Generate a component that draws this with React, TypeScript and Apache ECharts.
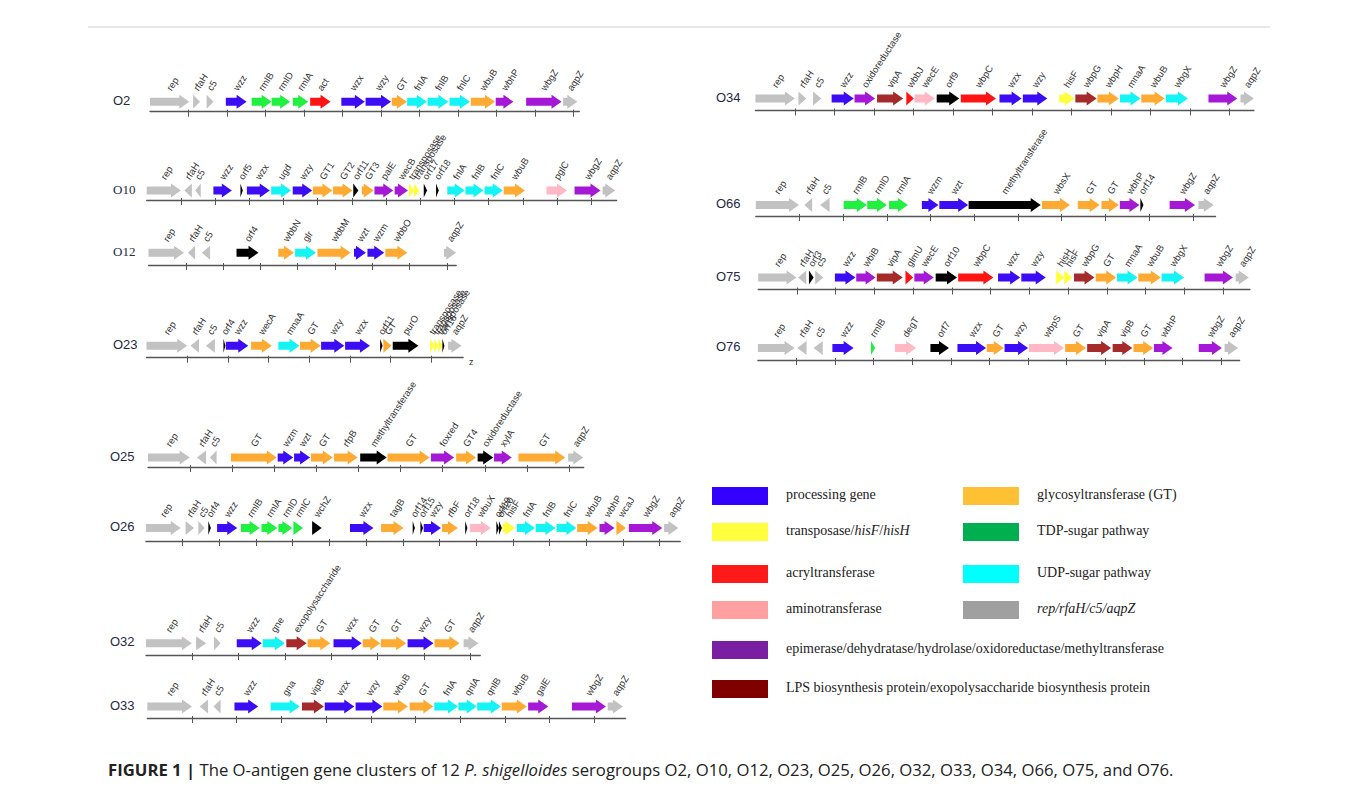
import React, { useEffect, useRef } from "react";
import * as echarts from "echarts";

// [name, start (tick units), end (tick units), strand, category]
type Gene = [string, number, number, number, string];

const O2_GENES: Gene[] = [
  ["rep", 0, 1.02, 1, "rep"], ["rfaH", 1.12, 1.3, 1, "rep"], ["c5", 1.47, 1.65, 1, "rep"],
  ["wzz", 1.97, 2.51, 1, "proc"], ["rmlB", 2.64, 3.16, 1, "tdp"], ["rmlD", 3.16, 3.64, 1, "tdp"],
  ["rmlA", 3.71, 4.11, 1, "tdp"], ["act", 4.16, 4.69, 1, "acyl"], ["wzx", 4.97, 5.58, 1, "proc"],
  ["wzy", 5.6, 6.26, 1, "proc"], ["GT", 6.28, 6.67, 1, "gt"], ["fnlA", 6.68, 7.19, 1, "udp"],
  ["fnlB", 7.21, 7.75, 1, "udp"], ["fnlC", 7.78, 8.31, 1, "udp"], ["wbuB", 8.33, 8.96, 1, "gt"],
  ["wbhP", 8.98, 9.44, 1, "epi"], ["wbgZ", 9.77, 10.69, 1, "epi"], ["aqpZ", 10.73, 11.1, 1, "rep"],
];
const O10_GENES: Gene[] = [
  ["rep", 0, 1.0, 1, "rep"], ["rfaH", 1.1, 1.32, -1, "rep"], ["c5", 1.42, 1.58, -1, "rep"],
  ["wzz", 1.95, 2.49, 1, "proc"], ["orf5", 2.74, 2.81, 1, "orf"], ["wzx", 2.93, 3.6, 1, "proc"],
  ["ugd", 3.64, 4.22, 1, "udp"], ["wzy", 4.27, 4.84, 1, "proc"], ["GT1", 4.86, 5.43, 1, "gt"],
  ["GT2", 5.45, 6.02, 1, "gt"], ["orf11", 6.04, 6.19, 1, "orf"], ["GT3", 6.29, 6.64, 1, "gt"],
  ["palE", 6.66, 7.21, 1, "epi"], ["wecB", 7.25, 7.64, 1, "epi"], ["transposase", 7.67, 7.82, 1, "transp"],
  ["transposase", 7.82, 7.97, 1, "transp"], ["orf17", 8.1, 8.2, 1, "orf"], ["orf18", 8.46, 8.54, 1, "orf"],
  ["fnlA", 8.79, 9.3, 1, "udp"], ["fnlB", 9.32, 9.85, 1, "udp"], ["fnlC", 9.88, 10.41, 1, "udp"],
  ["wbuB", 10.44, 11.06, 1, "gt"], ["pglC", 11.69, 12.29, 1, "amino"], ["wbgZ", 12.51, 13.27, 1, "epi"],
  ["aqpZ", 13.33, 13.7, 1, "rep"],
];
const O12_GENES: Gene[] = [
  ["rep", 0, 0.95, 1, "rep"], ["rfaH", 1.06, 1.25, -1, "rep"], ["c5", 1.43, 1.65, -1, "rep"],
  ["orf4", 2.36, 2.95, 1, "orf"], ["wbbN", 3.48, 3.9, 1, "gt"], ["glr", 3.93, 4.49, 1, "udp"],
  ["wbbM", 4.53, 5.42, 1, "gt"], ["wzt", 5.51, 5.83, 1, "proc"], ["wzm", 5.87, 6.32, 1, "proc"],
  ["wbbO", 6.35, 6.94, 1, "gt"], ["aqpZ", 7.92, 8.25, 1, "rep"],
];
const O23_GENES: Gene[] = [
  ["rep", 0, 1.0, 1, "rep"], ["rfaH", 1.08, 1.29, -1, "rep"], ["c5", 1.46, 1.68, -1, "rep"],
  ["orf4", 1.89, 1.94, 1, "orf"], ["wzz", 1.95, 2.5, 1, "proc"], ["wecA", 2.57, 3.08, 1, "gt"],
  ["mnaA", 3.24, 3.76, 1, "udp"], ["GT", 3.77, 4.28, 1, "gt"], ["wzy", 4.29, 4.86, 1, "proc"],
  ["wzx", 4.88, 5.49, 1, "proc"], ["orf11", 5.74, 5.8, 1, "orf"], ["GT", 5.82, 6.02, 1, "gt"],
  ["purO", 6.05, 6.68, 1, "orf"], ["transposase", 6.97, 7.07, 1, "transp"], ["transposase", 7.07, 7.17, 1, "transp"],
  ["transposase", 7.17, 7.27, 1, "transp"], ["orf16", 7.27, 7.32, 1, "orf"], ["aqpZ", 7.41, 7.74, 1, "rep"],
];
const O25_GENES: Gene[] = [
  ["rep", 0, 0.99, 1, "rep"], ["rfaH", 1.16, 1.38, -1, "rep"], ["c5", 1.47, 1.63, -1, "rep"],
  ["GT", 1.97, 3.06, 1, "gt"], ["wzm", 3.08, 3.45, 1, "proc"], ["wzt", 3.47, 3.85, 1, "proc"],
  ["GT", 3.87, 4.39, 1, "gt"], ["rfpB", 4.42, 4.98, 1, "gt"], ["methyltransferase", 5.04, 5.67, 1, "orf"],
  ["GT", 5.69, 6.69, 1, "gt"], ["foxred", 6.72, 7.27, 1, "epi"], ["GT4", 7.32, 7.79, 1, "gt"],
  ["oxidoreductase", 7.83, 8.2, 1, "orf"], ["xylA", 8.22, 8.64, 1, "epi"], ["GT", 8.8, 9.91, 1, "gt"],
  ["aqpZ", 9.98, 10.34, 1, "rep"],
];
const O26_GENES: Gene[] = [
  ["rep", 0, 0.95, 1, "rep"], ["rfaH", 1.08, 1.31, 1, "rep"], ["c5", 1.43, 1.6, 1, "rep"],
  ["orf4", 1.7, 1.77, 1, "orf"], ["wzz", 1.94, 2.49, 1, "proc"], ["rmlB", 2.59, 3.1, 1, "tdp"],
  ["rmlA", 3.15, 3.58, 1, "tdp"], ["rmlD", 3.61, 3.99, 1, "tdp"], ["rmlC", 4.02, 4.28, 1, "tdp"],
  ["wchZ", 4.53, 4.79, 1, "orf"], ["wzx", 5.56, 6.2, 1, "proc"], ["tagB", 6.41, 7.02, 1, "gt"],
  ["orf14", 7.27, 7.33, 1, "orf"], ["orf15", 7.48, 7.55, 1, "orf"], ["wzy", 7.57, 8.04, 1, "proc"],
  ["rfbF", 8.07, 8.5, 1, "gt"], ["orf18", 8.7, 8.76, 1, "orf"], ["wbuX", 8.83, 9.4, 1, "amino"],
  ["orf19", 9.55, 9.62, 1, "orf"], ["orf20", 9.62, 9.7, 1, "orf"], ["hisF", 9.72, 10.06, 1, "transp"],
  ["fnlA", 10.11, 10.6, 1, "udp"], ["fnlB", 10.62, 11.16, 1, "udp"], ["fnlC", 11.19, 11.73, 1, "udp"],
  ["wbuB", 11.75, 12.31, 1, "gt"], ["wbhP", 12.36, 12.77, 1, "epi"], ["wcaJ", 12.82, 13.08, 1, "gt"],
  ["wbgZ", 13.16, 14.07, 1, "epi"], ["aqpZ", 14.12, 14.51, 1, "rep"],
];
const O32_GENES: Gene[] = [
  ["rep", 0, 0.99, 1, "rep"], ["rfaH", 1.08, 1.3, 1, "rep"], ["c5", 1.47, 1.61, 1, "rep"],
  ["wzz", 1.96, 2.5, 1, "proc"], ["gne", 2.52, 3.0, 1, "udp"], ["exopolysaccharide", 3.03, 3.47, 1, "lps"],
  ["GT", 3.49, 3.98, 1, "gt"], ["wzx", 4.05, 4.66, 1, "proc"], ["GT", 4.68, 5.06, 1, "gt"],
  ["GT", 5.07, 5.62, 1, "gt"], ["wzy", 5.65, 6.21, 1, "proc"], ["GT", 6.23, 6.77, 1, "gt"],
  ["aqpZ", 6.86, 7.18, 1, "rep"],
];
const O33_GENES: Gene[] = [
  ["rep", 0, 1.0, 1, "rep"], ["rfaH", 1.17, 1.36, -1, "rep"], ["c5", 1.48, 1.64, -1, "rep"],
  ["wzz", 1.95, 2.48, 1, "proc"], ["gna", 2.76, 3.41, 1, "udp"], ["vipB", 3.46, 3.95, 1, "lps"],
  ["wzx", 3.97, 4.63, 1, "proc"], ["wzy", 4.66, 5.26, 1, "proc"], ["wbuB", 5.28, 5.83, 1, "gt"],
  ["GT", 5.87, 6.4, 1, "gt"], ["fnlA", 6.42, 6.95, 1, "udp"], ["qnlA", 6.96, 7.37, 1, "udp"],
  ["qnlB", 7.38, 7.91, 1, "udp"], ["wbuB", 7.93, 8.49, 1, "gt"], ["galE", 8.52, 8.97, 1, "epi"],
  ["wbgZ", 9.5, 10.26, 1, "epi"], ["aqpZ", 10.3, 10.64, 1, "rep"],
];
const O34_GENES: Gene[] = [
  ["rep", 0, 1.0, 1, "rep"], ["rfaH", 1.09, 1.29, 1, "rep"], ["c5", 1.46, 1.67, 1, "rep"],
  ["wzz", 1.93, 2.49, 1, "proc"], ["oxidoreductase", 2.51, 3.03, 1, "epi"], ["vipA", 3.08, 3.74, 1, "lps"],
  ["wbbJ", 3.82, 4.01, 1, "acyl"], ["wecE", 4.03, 4.54, 1, "amino"], ["orf9", 4.59, 5.16, 1, "orf"],
  ["wbpC", 5.2, 6.09, 1, "acyl"], ["wzx", 6.18, 6.74, 1, "proc"], ["wzy", 6.77, 7.39, 1, "proc"],
  ["hisF", 7.69, 8.08, 1, "transp"], ["wbpG", 8.1, 8.64, 1, "lps"], ["wbpH", 8.66, 9.2, 1, "gt"],
  ["mnaA", 9.23, 9.75, 1, "udp"], ["wbuB", 9.77, 10.36, 1, "gt"], ["wbgX", 10.39, 10.95, 1, "udp"],
  ["wbgZ", 11.47, 12.2, 1, "epi"], ["aqpZ", 12.28, 12.62, 1, "rep"],
];
const O66_GENES: Gene[] = [
  ["rep", 0, 0.99, 1, "rep"], ["rfaH", 1.11, 1.29, -1, "rep"], ["c5", 1.47, 1.69, -1, "rep"],
  ["rmlB", 2.01, 2.54, 1, "tdp"], ["rmlD", 2.55, 3.0, 1, "tdp"], ["rmlA", 3.05, 3.48, 1, "tdp"],
  ["wzm", 3.8, 4.18, 1, "proc"], ["wzt", 4.2, 4.86, 1, "proc"], ["methyltransferase", 4.87, 6.52, 1, "orf"],
  ["wbsX", 6.55, 7.19, 1, "gt"], ["GT", 7.37, 7.87, 1, "gt"], ["GT", 7.91, 8.31, 1, "gt"],
  ["wbhP", 8.33, 8.78, 1, "epi"], ["orf14", 8.8, 8.87, 1, "orf"], ["wbgZ", 9.47, 10.05, 1, "epi"],
  ["aqpZ", 10.13, 10.48, 1, "rep"],
];
const O75_GENES: Gene[] = [
  ["rep", 0, 0.99, 1, "rep"], ["rfaH", 1.03, 1.24, -1, "rep"], ["orf3", 1.31, 1.43, 1, "orf"],
  ["c5", 1.47, 1.68, 1, "rep"], ["wzz", 1.98, 2.51, 1, "proc"], ["wbiB", 2.53, 3.03, 1, "epi"],
  ["vipA", 3.06, 3.73, 1, "lps"], ["glmU", 3.8, 4.0, 1, "acyl"], ["wecE", 4.03, 4.53, 1, "epi"],
  ["orf10", 4.58, 5.13, 1, "orf"], ["wbpC", 5.16, 6.07, 1, "acyl"], ["wzx", 6.19, 6.76, 1, "proc"],
  ["wzy", 6.79, 7.42, 1, "proc"], ["hisH", 7.69, 7.9, 1, "transp"], ["hisF", 7.9, 8.1, 1, "transp"],
  ["wbpG", 8.15, 8.68, 1, "lps"], ["GT", 8.71, 9.24, 1, "gt"], ["mnaA", 9.26, 9.79, 1, "udp"],
  ["wbuB", 9.81, 10.39, 1, "gt"], ["wbgX", 10.41, 10.99, 1, "udp"], ["wbgZ", 11.52, 12.25, 1, "epi"],
  ["aqpZ", 12.32, 12.66, 1, "rep"],
];
const O76_GENES: Gene[] = [
  ["rep", 0, 0.95, 1, "rep"], ["rfaH", 1.02, 1.26, -1, "rep"], ["c5", 1.44, 1.68, -1, "rep"],
  ["wzz", 1.93, 2.48, 1, "proc"], ["rmlB", 2.93, 3.04, 1, "tdp"], ["degT", 3.55, 4.1, 1, "amino"],
  ["orf7", 4.47, 4.95, 1, "orf"], ["wzx", 5.17, 5.91, 1, "proc"], ["GT", 5.93, 6.37, 1, "gt"],
  ["wzy", 6.39, 7.0, 1, "proc"], ["wbpS", 7.02, 7.93, 1, "amino"], ["GT", 7.96, 8.5, 1, "gt"],
  ["vipA", 8.53, 9.15, 1, "lps"], ["vipB", 9.19, 9.7, 1, "lps"], ["GT", 9.73, 10.24, 1, "gt"],
  ["wbhP", 10.26, 10.74, 1, "epi"], ["wbgZ", 11.42, 12.02, 1, "epi"], ["aqpZ", 12.09, 12.44, 1, "rep"],
];

const SEROGROUPS = ["O2", "O10", "O12", "O23", "O25", "O26", "O32", "O33", "O34", "O66", "O75", "O76"];
const GENE_TABLES: Gene[][] = [
  O2_GENES, O10_GENES, O12_GENES, O23_GENES, O25_GENES, O26_GENES,
  O32_GENES, O33_GENES, O34_GENES, O66_GENES, O75_GENES, O76_GENES,
];
// axis length of each cluster, in tick units
const CLUSTER_LENGTHS = [11.15, 13.74, 8.25, 7.78, 10.35, 14.56, 7.22, 10.7, 12.62, 10.52, 12.69, 12.48];

const LEGEND_LEFT: [string, string][] = [
  ["processing gene", "proc"],
  ["transposase/{i|hisF}/{i|hisH}", "transp"],
  ["acryltransferase", "acyl"],
  ["aminotransferase", "amino"],
  ["epimerase/dehydratase/hydrolase/oxidoreductase/methyltransferase", "epi"],
  ["LPS biosynthesis protein/exopolysaccharide biosynthesis protein", "lps"],
];
const LEGEND_RIGHT: [string, string][] = [
  ["glycosyltransferase (GT)", "gt"],
  ["TDP-sugar pathway", "tdp"],
  ["UDP-sugar pathway", "udp"],
  ["{i|rep/rfaH/c5/aqpZ}", "rep"],
];

// ---- styles / layout ----
const ARROW_COLORS: Record<string, string> = {
  proc: "#3c0cf4", gt: "#ffaa33", transp: "#ffff3a", tdp: "#22f040", acyl: "#ff1414",
  udp: "#14f4f4", amino: "#ffb8c4", rep: "#c2c2c2", epi: "#a418d6", lps: "#a52a2a", orf: "#000000",
};
const LEGEND_COLORS: Record<string, string> = {
  proc: "#3300ff", gt: "#ffc034", transp: "#ffff40", tdp: "#00b050", acyl: "#ff1a1a",
  udp: "#00ffff", amino: "#ffa0a0", rep: "#a0a0a0", epi: "#7a1fa2", lps: "#800000",
};
// [lineLeft px, px per tick unit, axis line y, arrow centre y, label x]
const ROW_LAYOUT: [number, number, number, number, number][] = [
  [150, 38.5, 111.7, 101.7, 113],
  [146.7, 34.2, 200, 190.5, 113],
  [148.5, 37.3, 265, 252.7, 113],
  [146.5, 40.7, 357.7, 345.7, 113],
  [148, 42.1, 467, 457.5, 110],
  [145.9, 36.7, 541, 528, 110],
  [146, 46.3, 655, 643.3, 110],
  [147.3, 44.7, 718, 706.5, 110],
  [755.4, 39.5, 110.5, 98.5, 716],
  [755.8, 43.7, 216, 205, 716],
  [758.2, 38.75, 289.5, 277.5, 716],
  [757.9, 38.6, 360, 348, 716],
];
const SERIF_LABEL = [false, true, true, false, false, false, false, false, false, false, false, false];

const SHAFT = 4;
const HEAD = 7;
const HEAD_LEN = 10;
const ANGLE = (57 * Math.PI) / 180;
const SANS = "'Liberation Sans', Arial, sans-serif";
const SERIF = "'Liberation Serif', 'Times New Roman', serif";
const CAPTION_FONT = "'Open Sans', 'Liberation Sans', Arial, sans-serif";
const CAPTION_SIZE = 16.7;

function buildOption() {
  const grid: any[] = [];
  const xAxis: any[] = [];
  const yAxis: any[] = [];
  const series: any[] = [];
  const graphic: any[] = [];

  SEROGROUPS.forEach((sg, i) => {
    const [left, ppu, lineY, arrowY, labelX] = ROW_LAYOUT[i];
    const max = CLUSTER_LENGTHS[i];
    const ticks: number[] = [];
    for (let t = 1; t <= Math.floor(max); t++) ticks.push(t);
    grid.push({
      left, top: lineY - 30, width: max * ppu, height: 30,
      containLabel: false, outerBoundsMode: "none",
    });
    const common = {
      type: "value", gridIndex: i, min: 0, max, position: "bottom",
      axisLabel: { show: false }, splitLine: { show: false },
    };
    xAxis.push({
      ...common,
      axisLine: { show: true, lineStyle: { color: "#555", width: 1.3 } },
      axisTick: { show: true, length: 5, customValues: ticks, lineStyle: { color: "#555", width: 1 } },
    });
    xAxis.push({
      ...common,
      axisLine: { show: false },
      axisTick: { show: true, inside: true, length: 2, customValues: ticks, lineStyle: { color: "#555", width: 1 } },
    });
    yAxis.push({ type: "value", gridIndex: i, min: 0, max: 1, show: false });

    const genes = GENE_TABLES[i];
    const off = lineY - arrowY;
    series.push({
      type: "custom",
      name: sg,
      xAxisIndex: 2 * i,
      yAxisIndex: i,
      clip: false,
      silent: true,
      data: genes.map((g) => [g[1], g[2], g[3]]),
      renderItem: (params: any, api: any) => {
        const g = genes[params.dataIndex];
        const s = api.coord([api.value(0), 0]);
        const e = api.coord([api.value(1), 0]);
        const strand = api.value(2);
        const cy = s[1] - off;
        const x0 = s[0];
        const x1 = e[0];
        const hl = Math.min(HEAD_LEN, x1 - x0);
        let pts: number[][];
        if (strand > 0) {
          const hx = x1 - hl;
          pts = [[x0, cy - SHAFT], [hx, cy - SHAFT], [hx, cy - HEAD], [x1, cy], [hx, cy + HEAD], [hx, cy + SHAFT], [x0, cy + SHAFT]];
        } else {
          const hx = x0 + hl;
          pts = [[x1, cy - SHAFT], [hx, cy - SHAFT], [hx, cy - HEAD], [x0, cy], [hx, cy + HEAD], [hx, cy + SHAFT], [x1, cy + SHAFT]];
        }
        const cx = (x0 + x1) / 2;
        return {
          type: "group",
          children: [
            { type: "polygon", shape: { points: pts }, style: { fill: ARROW_COLORS[g[4]] } },
            {
              type: "text", x: cx - 1, y: cy - 12, rotation: ANGLE,
              style: { text: g[0], fontSize: 9.5, fontFamily: SANS, fill: "#333", align: "left", verticalAlign: "middle" },
            },
          ],
        };
      },
    });

    graphic.push({
      type: "text", left: labelX, top: arrowY - 8,
      style: { text: sg, fontSize: 13, fontFamily: SERIF_LABEL[i] ? SERIF : SANS, fill: "#1f2a44" },
    });
  });

  // stray mark under O23
  graphic.push({ type: "text", left: 469, top: 357, style: { text: "z", fontSize: 9, fontFamily: SANS, fill: "#333" } });

  // top separator line
  graphic.push({ type: "line", shape: { x1: 88, y1: 27, x2: 1270, y2: 27 }, style: { stroke: "#d0d0d0", lineWidth: 1 } });

  // legend
  const legRows = [496, 532, 574, 610, 650, 689];
  const legText = (label: string, left: number, top: number) => ({
    type: "text", left, top,
    style: {
      text: label, fontSize: 14, fontFamily: SERIF, fill: "#222",
      rich: { i: { fontStyle: "italic", fontSize: 14, fontFamily: SERIF, fill: "#222" } },
    },
  });
  LEGEND_LEFT.forEach(([label, key], k) => {
    graphic.push({ type: "rect", shape: { x: 712, y: legRows[k] - 9, width: 56, height: 18 }, style: { fill: LEGEND_COLORS[key] } });
    graphic.push(legText(label, 786, legRows[k] - 9));
  });
  LEGEND_RIGHT.forEach(([label, key], k) => {
    graphic.push({ type: "rect", shape: { x: 963, y: legRows[k] - 9, width: 56, height: 18 }, style: { fill: LEGEND_COLORS[key] } });
    graphic.push(legText(label, 1037, legRows[k] - 9));
  });

  // caption
  graphic.push({
    type: "text", left: 108, top: 761,
    style: {
      text: "{b|FIGURE 1 |} The O-antigen gene clusters of 12 {i|P. shigelloides} serogroups O2, O10, O12, O23, O25, O26, O32, O33, O34, O66, O75, and O76.",
      fontSize: CAPTION_SIZE, fontFamily: CAPTION_FONT, fill: "#222",
      rich: {
        b: { fontWeight: "bold", fontSize: CAPTION_SIZE, fontFamily: CAPTION_FONT, fill: "#222" },
        i: { fontStyle: "italic", fontSize: CAPTION_SIZE, fontFamily: CAPTION_FONT, fill: "#222" },
      },
    },
  });

  return {
    animation: false,
    backgroundColor: "#ffffff",
    grid, xAxis, yAxis, series, graphic,
  };
}

export default function App() {
  const ref = useRef<HTMLDivElement>(null);
  useEffect(() => {
    if (!ref.current) return;
    const chart = echarts.init(ref.current, undefined, { renderer: "svg" });
    chart.setOption(buildOption() as any);
    return () => chart.dispose();
  }, []);
  return (
    <div
      ref={ref}
      style={{ position: "fixed", left: 0, top: 0, width: 1357, height: 793, background: "#fff" }}
    />
  );
}
